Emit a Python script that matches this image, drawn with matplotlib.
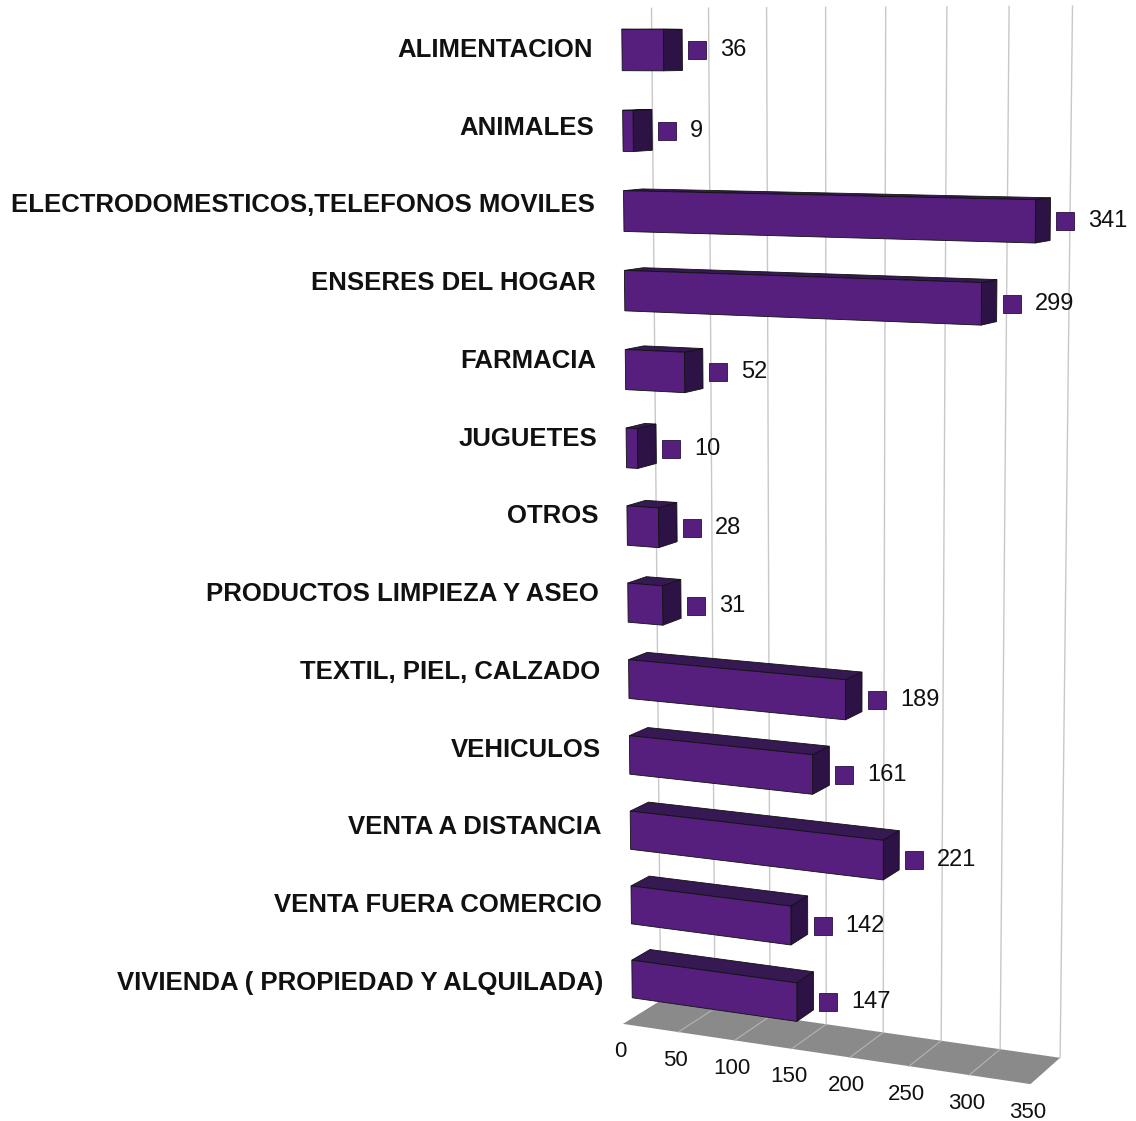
import numpy as np
import matplotlib.pyplot as plt
from matplotlib.patches import Polygon

plt.rcParams['font.family'] = ['Liberation Sans', 'DejaVu Sans']

categories = ["ALIMENTACION", "ANIMALES", "ELECTRODOMESTICOS,TELEFONOS MOVILES",
              "ENSERES DEL HOGAR", "FARMACIA", "JUGUETES", "OTROS",
              "PRODUCTOS LIMPIEZA Y ASEO", "TEXTIL, PIEL, CALZADO", "VEHICULOS",
              "VENTA A DISTANCIA", "VENTA FUERA COMERCIO",
              "VIVIENDA ( PROPIEDAD Y ALQUILADA)"]
values = [36, 9, 341, 299, 52, 10, 28, 31, 189, 161, 221, 142, 147]
ticks = [0, 50, 100, 150, 200, 250, 300, 350]

# camera: image of origin + vanishing points of the value / row / depth axes
O = (622.0, 50.0)
VPX, KX = (-6000.0, 45.0), -1.73e-4
VPY, KY = (837.0, 20000.0), 0.00407
VPZ, KZ = (2200.0, 45.0), 0.01

HALF = 0.255      # half bar height (rows)
DEPTH = 1.23      # bar depth
Z_BACK = 1.93     # back wall
Z_FRONT = -0.63   # front of floor
Y_FLOOR = 12.53   # floor level (rows)

FRONT = '#561f7d'
TOP = '#361853'
SIDE = '#2c1245'


def proj(x, y, z):
    x, y, z = (np.asarray(a, float) for a in (x, y, z))
    w = 1 + KX * x + KY * y + KZ * z
    px = O[0] + KX * x * VPX[0] + KY * y * VPY[0] + KZ * z * VPZ[0]
    py = O[1] + KX * x * VPX[1] + KY * y * VPY[1] + KZ * z * VPZ[1]
    return np.column_stack([px / w, py / w])


def face(ax, pts, color, ec='#111111', lw=0.6, zorder=3):
    xs, ys, zs = zip(*pts)
    ax.add_patch(Polygon(proj(xs, ys, zs), closed=True, facecolor=color,
                         edgecolor=ec, linewidth=lw, zorder=zorder))


fig = plt.figure(figsize=(11.36, 11.21), dpi=100)
ax = fig.add_axes([0, 0, 1, 1])
ax.set_xlim(0, 1136)
ax.set_ylim(1121, 0)
ax.axis('off')

# floor
face(ax, [(0, Y_FLOOR, Z_FRONT), (350, Y_FLOOR, Z_FRONT), (350, Y_FLOOR, Z_BACK),
          (0, Y_FLOOR, Z_BACK)], '#8a8a8a', ec='none', lw=0, zorder=1)
for t in ticks[1:-1]:
    p = proj([t, t], [Y_FLOOR] * 2, [Z_FRONT, Z_BACK])
    ax.plot(p[:, 0], p[:, 1], color='#b4b4b4', lw=0.8, zorder=1.5)

# back wall gridlines
for t in ticks:
    p = proj([t, t], [-0.52, Y_FLOOR], [Z_BACK, Z_BACK])
    ax.plot(p[:, 0], p[:, 1], color='#c8c8c8', lw=1.0, zorder=1.2)

# tick labels under the floor
for t in ticks:
    p = proj(t, Y_FLOOR, Z_FRONT)[0]
    ax.annotate(str(t), p, xytext=(-3, -28), textcoords='offset pixels',
                ha='center', va='center', fontsize=16, color='#111111')

# category labels are evenly spaced between the first and last bar
y_first = proj(0, 0, 0)[0, 1]
y_last = proj(0, len(values) - 1, 0)[0, 1] + 4
label_y = np.linspace(y_first, y_last, len(values))

# bars
for r, (cat, v) in enumerate(zip(categories, values)):
    y0, y1 = r - HALF, r + HALF
    face(ax, [(0, y0, 0), (v, y0, 0), (v, y0, DEPTH), (0, y0, DEPTH)], TOP)
    face(ax, [(v, y0, 0), (v, y0, DEPTH), (v, y1, DEPTH), (v, y1, 0)], SIDE)
    face(ax, [(0, y0, 0), (v, y0, 0), (v, y1, 0), (0, y1, 0)], FRONT)

    left = proj(0, r, 0)[0]
    ax.annotate(cat, (left[0], label_y[r]), xytext=(-29, 0), textcoords='offset pixels',
                ha='right', va='center', fontsize=18.5, fontweight='bold', color='#111111')

    back = proj(v, r, DEPTH)[0]
    front = proj(v, r, 0)[0]
    mx, my = back[0] + 15, front[1]
    ax.plot(mx, my, marker='s', markersize=13, color=FRONT,
            markeredgecolor='#2a1040', markeredgewidth=0.6, zorder=4)
    ax.annotate(str(v), (mx, my), xytext=(23, 0), textcoords='offset pixels',
                ha='left', va='center', fontsize=17, color='#111111')

fig.savefig('out.png', dpi=100)
